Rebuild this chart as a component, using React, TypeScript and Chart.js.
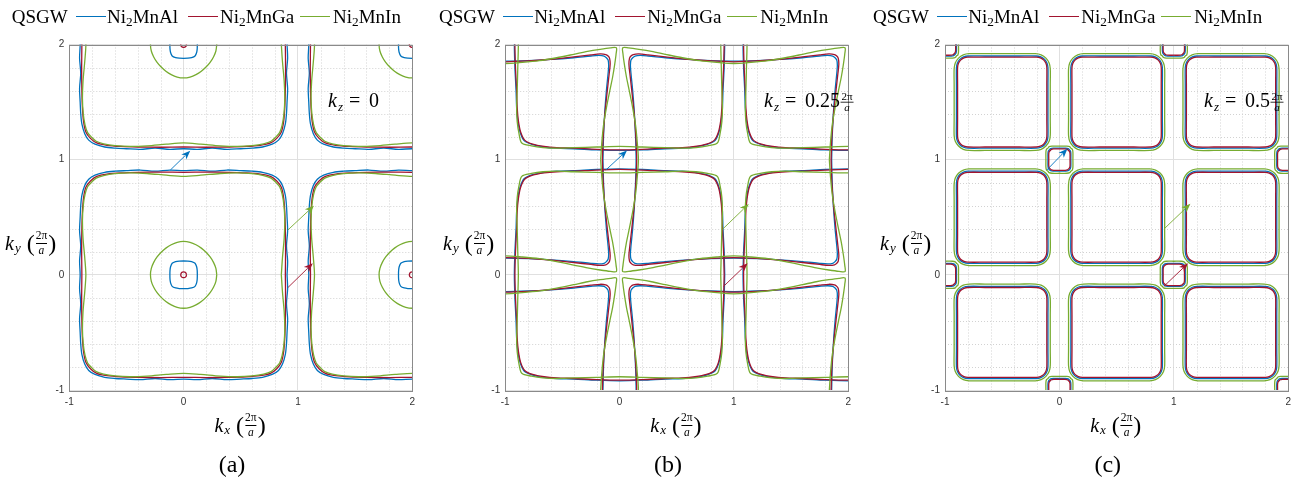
import React, { useEffect, useRef } from "react";
import { Chart, registerables } from "chart.js";

Chart.register(...registerables);

const SERIF = '"Liberation Serif", "DejaVu Serif", serif';
const SANS = '"Liberation Sans", Arial, sans-serif';

// ---------- axes ----------
const AXIS_MIN = -1;
const AXIS_MAX = 2;
const MAJOR_TICKS = [-1, 0, 1, 2];
const MINOR_STEP = 0.2;

// ---------- series ----------
const SERIES_X = ["Al", "Ga", "In"]; // Ni2Mn-X
const SERIES_COLORS = ["#0072BD", "#A2142F", "#77AC30"];

// ---------- Fermi-surface pocket outlines ----------
// Each outline is one octant (from the +kx direction round to the diagonal),
// relative to the pocket centre, in units of 2π/a. Mirrored to a closed loop.

// kz = 0 : large pockets and small Γ pockets
const KZ0_BIG_AL = [[0.905, 0], [0.91, 0.12], [0.9, 0.25], [0.91, 0.38], [0.905, 0.5], [0.9, 0.6], [0.89, 0.69], [0.865, 0.775], [0.83, 0.83]];
const KZ0_BIG_GA = [[0.89, 0], [0.892, 0.2], [0.89, 0.4], [0.885, 0.55], [0.875, 0.67], [0.855, 0.76], [0.815, 0.815]];
const KZ0_BIG_IN = [[0.855, 0], [0.865, 0.15], [0.88, 0.32], [0.885, 0.47], [0.878, 0.6], [0.862, 0.7], [0.84, 0.765], [0.805, 0.805]];
const KZ0_GAMMA_AL = [[0.12, 0], [0.119, 0.038], [0.114, 0.07], [0.1, 0.1]];
const KZ0_GAMMA_GA = [[0.025, 0], [0.023, 0.01], [0.018, 0.018]];
const KZ0_GAMMA_IN = [[0.29, 0], [0.2825, 0.0562], [0.2615, 0.1083], [0.232, 0.155], [0.196, 0.196]];

// kz = 0.25 : pockets on (even, even) and (odd, odd) centres
const KZ025_E_AL = [[0.92, 0], [0.915, 0.2], [0.905, 0.4], [0.9, 0.55], [0.89, 0.66], [0.87, 0.76], [0.835, 0.835]];
const KZ025_E_GA = [[0.915, 0], [0.91, 0.2], [0.9, 0.4], [0.895, 0.55], [0.885, 0.66], [0.865, 0.76], [0.83, 0.83]];
const KZ025_E_IN = [[0.885, 0], [0.89, 0.2], [0.895, 0.4], [0.9, 0.55], [0.895, 0.67], [0.88, 0.77], [0.855, 0.855]];
const KZ025_O_AL = [[0.855, 0], [0.86, 0.2], [0.87, 0.4], [0.885, 0.6], [0.9, 0.75], [0.905, 0.82], [0.9, 0.865], [0.885, 0.885]];
const KZ025_O_GA = [[0.85, 0], [0.857, 0.2], [0.872, 0.4], [0.893, 0.6], [0.91, 0.75], [0.918, 0.83], [0.913, 0.88], [0.9, 0.9]];
const KZ025_O_IN = [[0.835, 0], [0.845, 0.15], [0.86, 0.3], [0.885, 0.45], [0.915, 0.6], [0.94, 0.72], [0.958, 0.83], [0.97, 0.92], [0.972, 0.972]];

// kz = 0.5 : large squares on half-integer centres, small squares on odd-sum centres
const KZ05_BIG_AL = [[0.4, 0], [0.4, 0.15], [0.4, 0.3], [0.392, 0.338], [0.371, 0.371]];
const KZ05_BIG_GA = [[0.39, 0], [0.39, 0.15], [0.39, 0.3], [0.383, 0.334], [0.364, 0.364]];
const KZ05_BIG_IN = [[0.42, 0], [0.42, 0.15], [0.42, 0.29], [0.41, 0.34], [0.382, 0.382]];
const KZ05_SMALL_AL = [[0.1, 0], [0.1, 0.055], [0.096, 0.077], [0.087, 0.087]];
const KZ05_SMALL_GA = [[0.093, 0], [0.093, 0.05], [0.089, 0.07], [0.08, 0.08]];
const KZ05_SMALL_IN = [[0.118, 0], [0.118, 0.065], [0.113, 0.09], [0.1, 0.1]];

// ---------- pocket centres ----------
const CENTERS_EVEN = [[0, 0], [2, 0], [0, 2], [2, 2]];
const CENTERS_ODD = [[-1, -1], [1, -1], [-1, 1], [1, 1]];
const CENTERS_HALF = [[-0.5, -0.5], [0.5, -0.5], [1.5, -0.5], [-0.5, 0.5], [0.5, 0.5], [1.5, 0.5], [-0.5, 1.5], [0.5, 1.5], [1.5, 1.5]];
const CENTERS_ODD_SUM = [[-1, 0], [-1, 2], [0, -1], [0, 1], [1, 0], [1, 2], [2, -1], [2, 1]];

// ---------- nesting arrows [x0, y0, x1, y1] ----------
const ARROW_SERIES = [0, 2, 1];
const KZ0_ARROWS = [[-0.116, 0.91, 0.058, 1.078], [0.913, 0.39, 1.14, 0.6], [0.913, -0.11, 1.13, 0.1]];
const KZ025_ARROWS = [[-0.12, 0.91, 0.065, 1.08], [0.9, 0.395, 1.13, 0.615], [0.91, -0.1, 1.12, 0.1]];
const KZ05_ARROWS = [[-0.11, 0.91, 0.07, 1.095], [0.913, 0.397, 1.145, 0.617], [0.913, -0.1, 1.124, 0.1]];

// ---------- kz annotations ----------
const KZ_VALUES = ["0", "0.25", "0.5"];
const KZ_WITH_UNIT = [false, true, true];
const KZ_LABEL_POS = [1.255, 1.455];
const PANEL_LETTERS = ["(a)", "(b)", "(c)"];

// ---------- page layout (px) ----------
const PLOT_LEFT = [69.3, 505.2, 945];
const PLOT_TOP = 44.5;
const PLOT_SIZE = 345.5;
const CANVAS_W = 392;
const CANVAS_H = 430;
const Y_AXIS_W = 30;
const X_AXIS_H = 20;
const LEGEND_LEFT = [11.7, 439, 873];
const LEGEND_Y = 15.5;
const Y_TITLE_LEFT = [5, 443, 880];
const Y_TITLE_Y = 243;
const X_TITLE_Y = 425;
const LETTER_Y = 464;

const PANELS = [
  {
    groups: [
      { centers: CENTERS_EVEN, outlines: [KZ0_BIG_AL, KZ0_BIG_GA, KZ0_BIG_IN] },
      { centers: CENTERS_EVEN, outlines: [KZ0_GAMMA_AL, KZ0_GAMMA_GA, KZ0_GAMMA_IN] },
    ],
    arrows: KZ0_ARROWS,
  },
  {
    groups: [
      { centers: CENTERS_EVEN, outlines: [KZ025_E_AL, KZ025_E_GA, KZ025_E_IN] },
      { centers: CENTERS_ODD, outlines: [KZ025_O_AL, KZ025_O_GA, KZ025_O_IN] },
    ],
    arrows: KZ025_ARROWS,
  },
  {
    groups: [
      { centers: CENTERS_HALF, outlines: [KZ05_BIG_AL, KZ05_BIG_GA, KZ05_BIG_IN] },
      { centers: CENTERS_ODD_SUM, outlines: [KZ05_SMALL_AL, KZ05_SMALL_GA, KZ05_SMALL_IN] },
    ],
    arrows: KZ05_ARROWS,
  },
];

// octant -> closed loop around (cx, cy)
function closedLoop(octant: number[][], cx: number, cy: number) {
  const quad = [
    ...octant,
    ...octant.slice(0, -1).reverse().map(([a, b]) => [b, a]),
  ];
  const q2 = quad.slice().reverse().slice(1).map(([a, b]) => [-a, b]);
  const q3 = quad.slice(1).map(([a, b]) => [-a, -b]);
  const q4 = quad.slice().reverse().slice(1).map(([a, b]) => [a, -b]);
  return [...quad, ...q2, ...q3, ...q4].map(([a, b]) => ({ x: cx + a, y: cy + b }));
}

function buildDatasets(p: number) {
  const sets: any[] = [];
  PANELS[p].groups.forEach((g) => {
    g.outlines.forEach((outline, s) => {
      g.centers.forEach(([cx, cy]) => {
        sets.push({
          data: closedLoop(outline, cx, cy),
          showLine: true,
          borderColor: SERIES_COLORS[s],
          backgroundColor: SERIES_COLORS[s],
          borderWidth: 1.3,
          pointRadius: 0,
          tension: 0.3,
          fill: false,
          clip: 0,
          order: 2 - s,
        });
      });
    });
  });
  return sets;
}

function drawArrow(ctx: CanvasRenderingContext2D, x0: number, y0: number, x1: number, y1: number, color: string) {
  const ang = Math.atan2(y1 - y0, x1 - x0);
  const L = 9;
  const W = 3.6;
  ctx.save();
  ctx.strokeStyle = color;
  ctx.fillStyle = color;
  ctx.lineWidth = 0.9;
  ctx.beginPath();
  ctx.moveTo(x0, y0);
  ctx.lineTo(x1 - Math.cos(ang) * (L - 2), y1 - Math.sin(ang) * (L - 2));
  ctx.stroke();
  ctx.translate(x1, y1);
  ctx.rotate(ang);
  ctx.beginPath();
  ctx.moveTo(0, 0);
  ctx.lineTo(-L, W);
  ctx.lineTo(-L + 2.5, 0);
  ctx.lineTo(-L, -W);
  ctx.closePath();
  ctx.fill();
  ctx.restore();
}

function panelPlugin(p: number) {
  return {
    id: "fermiPanel" + p,
    beforeDatasetsDraw(chart: any) {
      const { ctx, chartArea: a, scales } = chart;
      const xs = scales.x;
      const ys = scales.y;
      ctx.save();
      ctx.strokeStyle = "#d2d2d2";
      ctx.lineWidth = 1;
      ctx.setLineDash([1, 2]);
      const n = Math.round((AXIS_MAX - AXIS_MIN) / MINOR_STEP);
      for (let k = 1; k < n; k++) {
        const v = AXIS_MIN + k * MINOR_STEP;
        if (Math.abs(v - Math.round(v)) < 1e-6) continue;
        const px = Math.round(xs.getPixelForValue(v)) + 0.5;
        ctx.beginPath();
        ctx.moveTo(px, a.top);
        ctx.lineTo(px, a.bottom);
        ctx.stroke();
        const py = Math.round(ys.getPixelForValue(v)) + 0.5;
        ctx.beginPath();
        ctx.moveTo(a.left, py);
        ctx.lineTo(a.right, py);
        ctx.stroke();
      }
      ctx.restore();
    },
    afterDatasetsDraw(chart: any) {
      const { ctx, chartArea: a, scales } = chart;
      const xs = scales.x;
      const ys = scales.y;
      ctx.save();
      // axes box
      ctx.strokeStyle = "#8a8a8a";
      ctx.lineWidth = 1;
      ctx.strokeRect(Math.round(a.left) + 0.5, Math.round(a.top) + 0.5, Math.round(a.right - a.left), Math.round(a.bottom - a.top));
      // nesting vectors
      PANELS[p].arrows.forEach(([x0, y0, x1, y1], i) => {
        drawArrow(ctx, xs.getPixelForValue(x0), ys.getPixelForValue(y0), xs.getPixelForValue(x1), ys.getPixelForValue(y1), SERIES_COLORS[ARROW_SERIES[i]]);
      });
      // kz annotation
      const lx = xs.getPixelForValue(KZ_LABEL_POS[0]);
      const base = ys.getPixelForValue(KZ_LABEL_POS[1]);
      ctx.fillStyle = "#000";
      ctx.textBaseline = "alphabetic";
      ctx.textAlign = "left";
      ctx.font = `italic 20px ${SERIF}`;
      ctx.fillText("k", lx + 1, base);
      ctx.font = `italic 13px ${SERIF}`;
      ctx.fillText("z", lx + 11, base + 4);
      ctx.font = `20px ${SERIF}`;
      ctx.fillText("=", lx + 22, base);
      ctx.fillText(KZ_VALUES[p], lx + 42, base);
      if (KZ_WITH_UNIT[p]) {
        const w = ctx.measureText(KZ_VALUES[p]).width;
        const cx = lx + 42 + w + 7;
        ctx.textAlign = "center";
        ctx.font = `11px ${SERIF}`;
        ctx.fillText("2π", cx, base - 7.5);
        ctx.fillRect(cx - 6.5, base - 5.5, 13, 0.8);
        ctx.font = `italic 11px ${SERIF}`;
        ctx.fillText("a", cx, base + 4);
      }
      ctx.restore();
    },
  };
}

function axisOptions(isX: boolean) {
  return {
    type: "linear",
    min: AXIS_MIN,
    max: AXIS_MAX,
    afterBuildTicks: (s: any) => {
      s.ticks = MAJOR_TICKS.map((v) => ({ value: v }));
    },
    afterFit: (s: any) => {
      if (isX) s.height = X_AXIS_H;
      else s.width = Y_AXIS_W;
    },
    ticks: {
      autoSkip: false,
      maxRotation: 0,
      padding: isX ? 6 : 5,
      color: "#333",
      font: { family: SANS, size: 10 },
      callback: (v: any) => String(v),
    },
    grid: { color: "#e0e0e0", lineWidth: 1, drawTicks: false },
    border: { display: false },
  };
}

function ChartCanvas({ p }: { p: number }) {
  const ref = useRef<HTMLCanvasElement>(null);
  const canvasLeft = Math.floor(PLOT_LEFT[p]) - 40;
  useEffect(() => {
    const canvas = ref.current;
    if (!canvas) return;
    const innerLeft = PLOT_LEFT[p] - canvasLeft;
    const chart = new Chart(canvas, {
      type: "scatter",
      data: { datasets: buildDatasets(p) },
      options: {
        animation: false,
        responsive: false,
        maintainAspectRatio: false,
        devicePixelRatio: 1,
        events: [],
        layout: {
          padding: {
            left: innerLeft - Y_AXIS_W,
            right: CANVAS_W - innerLeft - PLOT_SIZE,
            top: PLOT_TOP,
            bottom: CANVAS_H - PLOT_TOP - PLOT_SIZE - X_AXIS_H,
          },
        },
        elements: { line: { capBezierPoints: false } },
        plugins: { legend: { display: false }, tooltip: { enabled: false } },
        scales: { x: axisOptions(true), y: axisOptions(false) },
      } as any,
      plugins: [panelPlugin(p)],
    });
    return () => chart.destroy();
  }, [p]);
  return (
    <canvas
      ref={ref}
      width={CANVAS_W}
      height={CANVAS_H}
      style={{ position: "absolute", left: canvasLeft, top: 0, width: CANVAS_W, height: CANVAS_H }}
    />
  );
}

const SUB: React.CSSProperties = { fontSize: "0.7em", position: "relative", top: "0.3em", lineHeight: 0 };

function Legend({ left }: { left: number }) {
  const lineOffsets = [64.3, 176.3, 288.3];
  const textOffsets = [95.3, 208.3, 321.3];
  const textStyle: React.CSSProperties = {
    position: "absolute",
    top: LEGEND_Y,
    transform: "translateY(-50%)",
    fontFamily: SERIF,
    fontSize: 19,
    lineHeight: 1,
    whiteSpace: "nowrap",
    color: "#000",
  };
  return (
    <>
      <div style={{ ...textStyle, left }}>QSGW</div>
      {SERIES_X.map((name, s) => (
        <React.Fragment key={name}>
          <div style={{ position: "absolute", left: left + lineOffsets[s], top: LEGEND_Y, width: 30, height: 1.4, background: SERIES_COLORS[s] }} />
          <div style={{ ...textStyle, left: left + textOffsets[s] }}>
            Ni<span style={SUB}>2</span>Mn{name}
          </div>
        </React.Fragment>
      ))}
    </>
  );
}

function KTitle({ sub, style }: { sub: string; style: React.CSSProperties }) {
  return (
    <div style={{ position: "absolute", display: "flex", alignItems: "center", whiteSpace: "nowrap", lineHeight: 1, color: "#000", fontFamily: SERIF, ...style }}>
      <span style={{ fontStyle: "italic", fontSize: 20 }}>k</span>
      <span style={{ fontStyle: "italic", fontSize: 13, marginTop: 9, marginLeft: 1 }}>{sub}</span>
      <span style={{ fontSize: 24, marginLeft: 6 }}>(</span>
      <span style={{ display: "inline-flex", flexDirection: "column", alignItems: "center", fontSize: 11.5, margin: "0 1px" }}>
        <span>2π</span>
        <span style={{ alignSelf: "stretch", height: 0, borderTop: "0.8px solid #000", margin: "1px 0" }} />
        <span style={{ fontStyle: "italic" }}>a</span>
      </span>
      <span style={{ fontSize: 24 }}>)</span>
    </div>
  );
}

function PanelBlock({ p }: { p: number }) {
  const cx = PLOT_LEFT[p] + PLOT_SIZE / 2;
  return (
    <>
      <ChartCanvas p={p} />
      <Legend left={LEGEND_LEFT[p]} />
      <KTitle sub="x" style={{ left: cx - 2, top: X_TITLE_Y, transform: "translate(-50%, -50%)" }} />
      <KTitle sub="y" style={{ left: Y_TITLE_LEFT[p], top: Y_TITLE_Y, transform: "translateY(-50%)" }} />
      <div
        style={{
          position: "absolute",
          left: cx - 10,
          top: LETTER_Y,
          transform: "translate(-50%, -50%)",
          fontFamily: SERIF,
          fontSize: 24,
          lineHeight: 1,
          color: "#000",
        }}
      >
        {PANEL_LETTERS[p]}
      </div>
    </>
  );
}

export default function App() {
  useEffect(() => {
    document.body.style.margin = "0";
  }, []);
  return (
    <div style={{ position: "absolute", left: 0, top: 0, width: 1301, height: 482, overflow: "hidden", background: "#fff" }}>
      {[0, 1, 2].map((p) => (
        <PanelBlock key={p} p={p} />
      ))}
    </div>
  );
}
